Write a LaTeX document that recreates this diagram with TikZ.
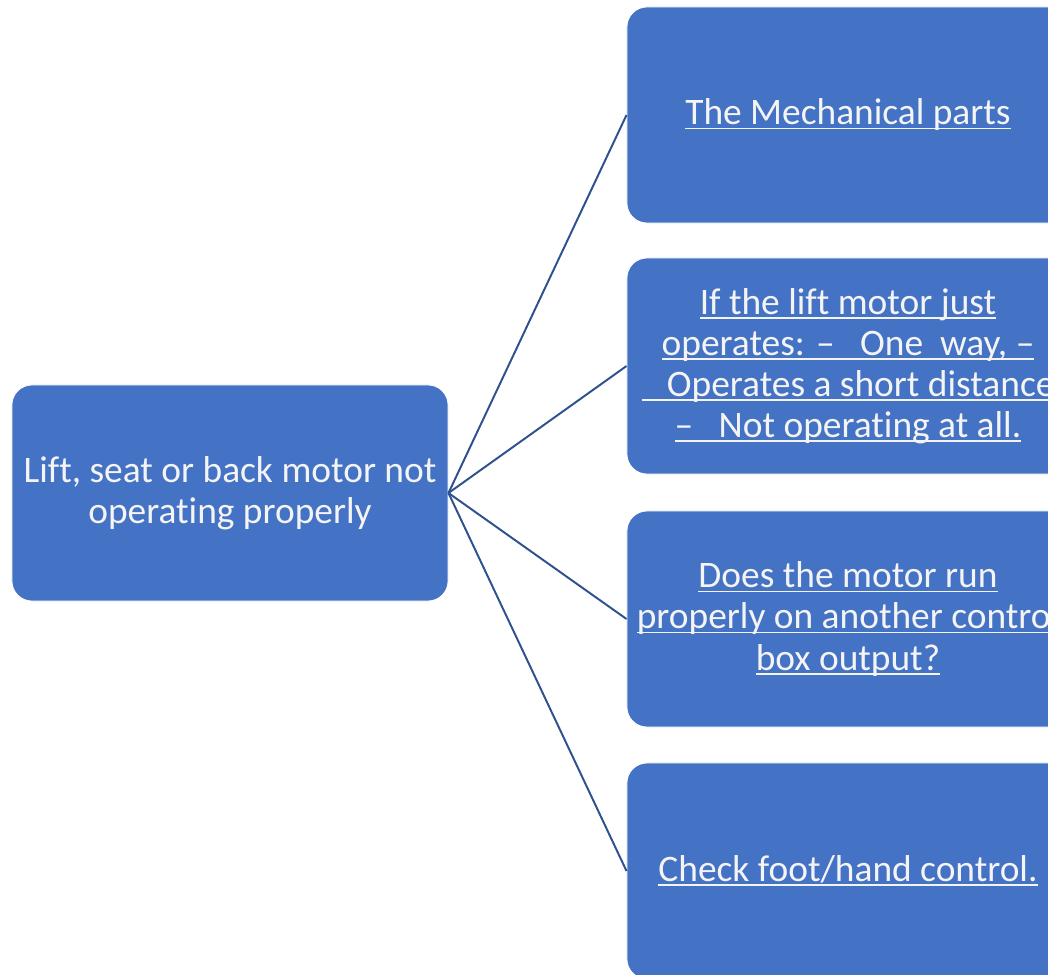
\documentclass[tikz,border=0pt]{standalone}
\usepackage{fontspec}
\setmainfont{Carlito}[Ligatures={NoCommon}]
\definecolor{boxblue}{HTML}{4472C4}
\definecolor{linkblue}{HTML}{2F528F}
\definecolor{boxtext}{HTML}{F4F4F4}
\newcommand{\uln}[1]{\leavevmode\setbox0\hbox{#1}\rlap{\rule[-0.12em]{\wd0}{0.05em}}\box0}

\begin{document}
\begin{tikzpicture}[x=0.025cm, y=-0.025cm,
    box/.style={rectangle, rounded corners=0.5cm, fill=boxblue, draw=white, line width=0.6pt,
        text=boxtext, align=center, minimum height=5.4cm, inner sep=2pt,
        font=\fontsize{26.6}{29.2}\selectfont},
    link/.style={draw=linkblue, line width=1.4pt}]
        \useasboundingbox (0,0) rectangle (1048,975);
        \clip (0,0) rectangle (1048,975);
        \node[box, minimum width=10.9cm] (fault) at (230,493) {Lift, seat or back motor not\\operating properly};
        \node[box, minimum width=11.05cm] (mech) at (848,115) {\uln{The Mechanical parts}};
        \node[box, minimum width=11.05cm] (lift) at (848,366) {\uln{If the lift motor just}\\\uln{operates: --\ \ \ One\ \ way, --}\\\uln{\ \ \ Operates a short distance}\\\uln{--\ \ \ Not operating at all.}};
        \node[box, minimum width=11.05cm] (other) at (848,619) {\uln{Does the motor run}\\\uln{properly on another control}\\\uln{box output?}};
        \node[box, minimum width=11.05cm] (hand) at (848,871) {\uln{Check foot/hand control.}};
        \draw[link] (fault.east) -- (mech.west);
        \draw[link] (fault.east) -- (lift.west);
        \draw[link] (fault.east) -- (other.west);
        \draw[link] (fault.east) -- (hand.west); %branches
    \end{tikzpicture}
\end{document}
